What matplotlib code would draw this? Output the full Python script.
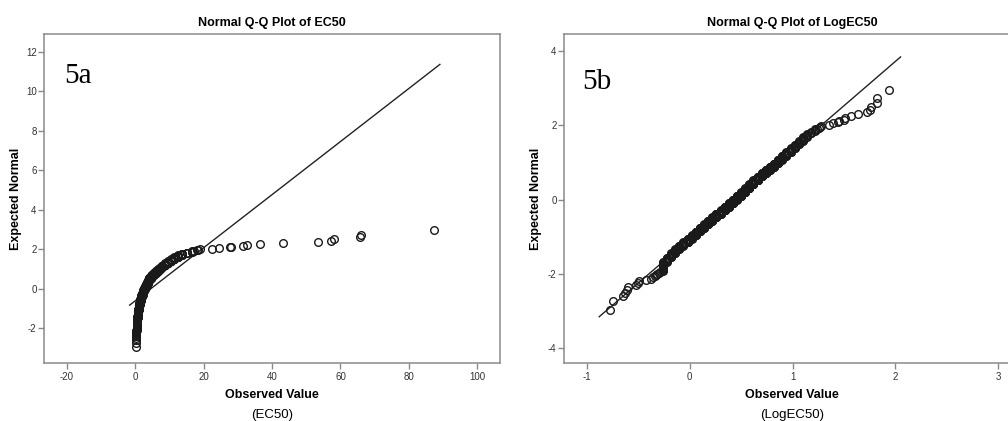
import numpy as np
import matplotlib
matplotlib.use("Agg")
import matplotlib.pyplot as plt
from statistics import NormalDist

plt.rcParams['font.family'] = ['Liberation Sans', 'DejaVu Sans']
plt.rcParams['axes.unicode_minus'] = False

# LogEC50 values read off panel 5b (sorted)
# single points at the low end
low_tail = [-0.77, -0.74, -0.65, -0.63, -0.61, -0.60, -0.52, -0.50, -0.49,
            -0.42, -0.38, -0.36, -0.34, -0.33, -0.32, -0.30, -0.29]
# dense middle part: bin centre (width 0.04) and number of points in it
body_bins = [-0.26, -0.22, -0.18, -0.14, -0.10, -0.06, -0.02, 0.02, 0.06, 0.10,
             0.14, 0.18, 0.22, 0.26, 0.30, 0.34, 0.38, 0.42, 0.46, 0.50,
             0.54, 0.58, 0.62, 0.66, 0.70, 0.74, 0.78, 0.82, 0.86, 0.90,
             0.94, 0.98, 1.02, 1.06, 1.10, 1.14, 1.18, 1.22]
body_counts = [13, 8, 10, 11, 10, 12, 13, 15, 17, 18,
               20, 20, 21, 22, 23, 23, 25, 25, 25, 25,
               27, 26, 25, 23, 18, 17, 15, 15, 15, 14,
               13, 11, 9, 8, 7, 5, 3, 3]
# single points at the high end
high_tail = [1.238, 1.255, 1.267, 1.279, 1.354, 1.391, 1.444, 1.447, 1.497,
             1.513, 1.563, 1.635, 1.728, 1.757, 1.765, 1.817, 1.820, 1.941]

log_ec50 = np.sort(np.concatenate([low_tail, np.repeat(body_bins, body_counts), high_tail]))
ec50 = 10 ** log_ec50

# expected normal scores from ranks, r/(n+1)
n = len(log_ec50)
nd = NormalDist()
expected = np.array([nd.inv_cdf(r / (n + 1)) for r in range(1, n + 1)])

panels = [
    dict(obs=ec50, title='Normal Q-Q Plot of EC50', tag='5a', name='(EC50)',
         xlim=(-26.5, 106.6), ylim=(-3.78, 12.88), xticks=[-20, 0, 20, 40, 60, 80, 100],
         yticks=[-2, 0, 2, 4, 6, 8, 10, 12], left=44.3, pad=0.02, tagpos=(0.044, 0.851)),
    dict(obs=log_ec50, title='Normal Q-Q Plot of LogEC50', tag='5b', name='(LogEC50)',
         xlim=(-1.218, 3.21), ylim=(-4.40, 4.45), xticks=[-1, 0, 1, 2, 3],
         yticks=[-4, -2, 0, 2, 4], left=564.3, pad=0.04, tagpos=(0.040, 0.833)),
]

W, H = 1008, 421
fig = plt.figure(figsize=(W / 100, H / 100), dpi=100)
frame_col = '#8a8a8a'

for p in panels:
    ax = fig.add_axes([p['left'] / W, 1 - 363.3 / H, 455.7 / W, 329 / H])
    obs = p['obs']

    # reference line through mean and sd of the observed values
    mu, sd = obs.mean(), obs.std(ddof=1)
    span = obs.max() - obs.min()
    lx = np.array([obs.min() - p['pad'] * span, obs.max() + p['pad'] * span])
    ax.plot(lx, (lx - mu) / sd, color='#222222', lw=1.0, zorder=2)

    ax.plot(obs, expected, linestyle='none', marker='o', ms=5.5, mfc='none',
            mec='#1a1a1a', mew=1.0, zorder=3)

    ax.set_xlim(p['xlim'])
    ax.set_ylim(p['ylim'])
    ax.set_xticks(p['xticks'])
    ax.set_yticks(p['yticks'])
    ax.tick_params(direction='out', length=4, width=1, color=frame_col,
                   labelsize=7, labelcolor='#333333', pad=1.5)
    ax.tick_params(axis='x', pad=2.5)
    for s in ax.spines.values():
        s.set_color(frame_col)
        s.set_linewidth(1.1)

    ax.set_title(p['title'], fontsize=9, fontweight='bold', pad=6)
    ax.text(p['tagpos'][0], p['tagpos'][1], p['tag'], transform=ax.transAxes,
            family='Liberation Serif', fontsize=21, va='baseline', ha='left')

    cx = (p['left'] + 455.7 / 2) / W
    fig.text(cx, 1 - 395 / H, 'Observed Value', ha='center', va='center',
             fontsize=9, fontweight='bold')
    fig.text(cx, 1 - 415 / H, p['name'], ha='center', va='center', fontsize=9.5)
    fig.text((p['left'] - 28.5) / W, 1 - 199 / H, 'Expected Normal', rotation=90,
             ha='center', va='center', fontsize=9, fontweight='bold')

fig.savefig('out.png', dpi=100)
